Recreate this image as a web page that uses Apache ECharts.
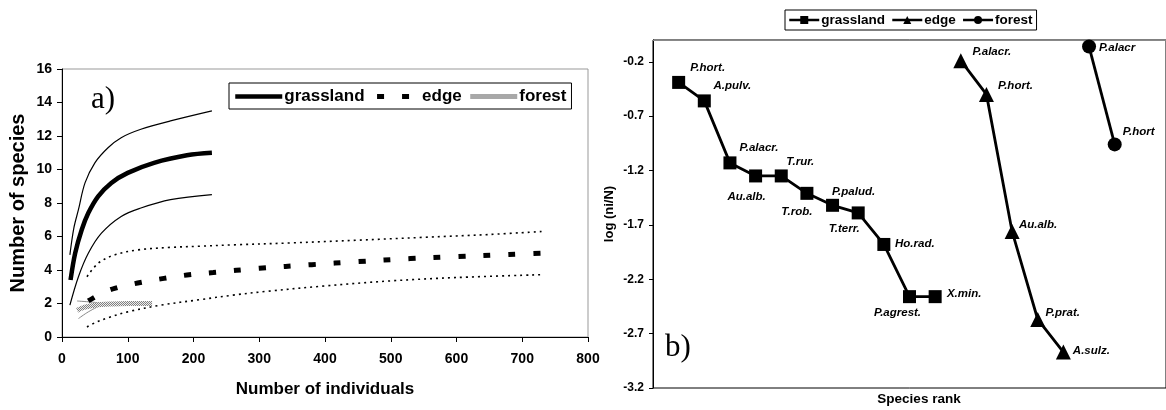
<!DOCTYPE html>
<html>
<head>
<meta charset="utf-8">
<script src="https://cdn.jsdelivr.net/npm/echarts@6/dist/echarts.min.js"></script>
<style>
  html, body { margin: 0; padding: 0; background: #fff; }
  #main { width: 1166px; height: 410px; }
</style>
</head>
<body>
<div id="main"></div>
<script>
// a) rarefaction curves: number of individuals -> number of species
var grassN      = [13, 20, 30, 40, 55, 75, 100, 140, 190, 228];
var grassMean   = [3.4, 5.0, 6.4, 7.4, 8.4, 9.2, 9.8, 10.4, 10.85, 11.0];
var grassUpN    = [12, 18, 25, 35, 50, 70, 90, 120, 165, 228];
var grassUp     = [4.9, 6.5, 7.6, 9.2, 10.4, 11.3, 11.9, 12.4, 12.9, 13.5];
var grassLowN   = [12, 25, 40, 60, 90, 120, 165, 228];
var grassLow    = [1.9, 3.6, 5.0, 6.2, 7.2, 7.7, 8.2, 8.5];

var edgeN       = [40, 60, 80, 115, 155, 190, 230, 300, 380, 450, 530, 600, 680, 730];
var edgeMean    = [2.15, 2.6, 2.9, 3.22, 3.5, 3.7, 3.85, 4.1, 4.32, 4.5, 4.68, 4.8, 4.93, 5.0];
var edgeUpN     = [38, 55, 80, 115, 165, 210, 260, 350, 450, 550, 650, 730];
var edgeUp      = [3.6, 4.4, 4.9, 5.2, 5.35, 5.42, 5.5, 5.62, 5.78, 5.95, 6.12, 6.3];
var edgeLowN    = [38, 50, 70, 100, 150, 210, 260, 310, 400, 500, 600, 730];
var edgeLow     = [0.6, 0.85, 1.15, 1.5, 1.9, 2.23, 2.5, 2.72, 3.05, 3.35, 3.55, 3.72];

var forestN     = [23, 35, 50, 75, 100, 137];
var forestMean  = [1.6, 1.78, 1.9, 1.97, 2.0, 2.0];
var forestUpN   = [23, 40, 60];
var forestUp    = [2.15, 2.1, 2.03];
var forestLowN  = [25, 40, 60];
var forestLow   = [1.1, 1.5, 1.92];

// b) rank / abundance
var grassRank   = [1, 2, 3, 4, 5, 6, 7, 8, 9, 10, 11];
var grassLog    = [-0.39, -0.56, -1.13, -1.25, -1.25, -1.41, -1.52, -1.59, -1.88, -2.36, -2.36];
var grassNames  = ['P.hort.', 'A.pulv.', 'P.alacr.', 'Au.alb.', 'T.rur.', 'T.rob.', 'P.palud.', 'T.terr.', 'Ho.rad.', 'P.agrest.', 'X.min.'];
var edgeRank    = [12, 13, 14, 15, 16];
var edgeLog     = [-0.19, -0.50, -1.76, -2.57, -2.87];
var edgeNames   = ['P.alacr.', 'P.hort.', 'Au.alb.', 'P.prat.', 'A.sulz.'];
var forestRank  = [17, 18];
var forestLog   = [-0.06, -0.96];
var forestNames = ['P.alacr', 'P.hort'];

// where each species name sits relative to its marker (px)
var grassOff  = [[29, -15], [28, -15], [29, -15], [-9, 21], [19, -14], [-10, 18], [21, -13], [-14, 16], [31, -1], [-12, 16], [29, -3]];
var edgeOff   = [[31, -9], [29, -9], [26, -7], [25, -7], [28, -1]];
var forestOff = [[28, 1], [24, -13]];

var arial = "'Liberation Sans', Arial, sans-serif";
var times = "'Liberation Serif', 'Times New Roman', serif";

function pairs(xs, ys) {
  return xs.map(function (x, i) { return [x, ys[i]]; });
}
function labelled(xs, ys, names, offs) {
  return xs.map(function (x, i) {
    return { value: [x, ys[i]], name: names[i], label: { offset: offs[i] } };
  });
}

// grey hatched stroke for the forest curve
var hatch = document.createElement('canvas');
hatch.width = 4; hatch.height = 4;
var hc = hatch.getContext('2d');
hc.fillStyle = '#eeeeee'; hc.fillRect(0, 0, 4, 4);
hc.fillStyle = '#808080';
for (var hy = 0; hy < 4; hy++) {
  for (var hx = (hy % 2); hx < 4; hx += 2) hc.fillRect(hx, hy, 1, 1);
}
var hatchColor = { image: hatch, repeat: 'repeat' };

var myChart = echarts.init(document.getElementById('main'), null, { renderer: 'canvas' });

var mainStyle = {
  grassland: { color: '#000', width: 4.5 },
  edge: { color: '#000', width: 5, type: [7, 18] },
  forest: { color: hatchColor, width: 5 }
};

function curve(name, xs, ys, lineStyle) {
  return {
    name: name, type: 'line', xAxisIndex: 0, yAxisIndex: 0,
    data: pairs(xs, ys), symbol: 'none', smooth: 0.35,
    itemStyle: { color: 'rgba(0,0,0,0)' },
    lineStyle: lineStyle, silent: true, z: 3
  };
}

function rank(name, xs, ys, names, offs, symbol, size) {
  return {
    name: name, type: 'line', xAxisIndex: 1, yAxisIndex: 1,
    data: labelled(xs, ys, names, offs),
    symbol: symbol, symbolSize: size,
    itemStyle: { color: '#000' },
    lineStyle: { color: '#000', width: 2.8 },
    label: {
      show: true, position: 'inside', formatter: '{b}',
      color: '#000', fontSize: 11.5, fontWeight: 'bold', fontStyle: 'italic', fontFamily: arial
    },
    z: 3
  };
}

var option = {
  animation: false,
  backgroundColor: '#fff',
  grid: [
    { left: 62, top: 69, width: 526, height: 268, show: true, borderColor: '#999', borderWidth: 1 },
    { left: 653, top: 40, width: 522, height: 348, show: true, borderColor: '#000', borderWidth: 1 }
  ],
  xAxis: [
    {
      gridIndex: 0, type: 'value', min: 0, max: 800, interval: 100,
      name: 'Number of individuals', nameLocation: 'middle', nameGap: 44,
      nameTextStyle: { color: '#000', fontSize: 17, fontWeight: 'bold', fontFamily: arial },
      axisLine: { lineStyle: { color: '#000', width: 1 } },
      axisTick: { show: true, length: 5, lineStyle: { color: '#000' } },
      axisLabel: { color: '#000', fontSize: 14, fontWeight: 'bold', fontFamily: arial, margin: 15 },
      splitLine: { show: false }
    },
    {
      gridIndex: 1, type: 'value', min: 0, max: 20,
      axisLine: { lineStyle: { color: '#888', width: 1 } },
      axisTick: { show: false }, axisLabel: { show: false }, splitLine: { show: false }
    }
  ],
  yAxis: [
    {
      gridIndex: 0, type: 'value', min: 0, max: 16, interval: 2,
      name: 'Number of species', nameLocation: 'middle', nameGap: 34,
      nameTextStyle: { color: '#000', fontSize: 20, fontWeight: 'bold', fontFamily: arial },
      axisLine: { show: true, lineStyle: { color: '#000', width: 1 } },
      axisTick: { show: true, length: 5, lineStyle: { color: '#000' } },
      axisLabel: { color: '#000', fontSize: 14, fontWeight: 'bold', fontFamily: arial, margin: 10 },
      splitLine: { show: false }
    },
    {
      gridIndex: 1, type: 'value', min: -3.2, max: 0, interval: 0.5,
      name: 'log (ni/N)', nameLocation: 'middle', nameGap: 37,
      nameTextStyle: { color: '#000', fontSize: 13, fontWeight: 'bold', fontFamily: arial },
      axisLine: { show: true, lineStyle: { color: '#000', width: 1 } },
      axisTick: { show: true, length: 4, lineStyle: { color: '#000' } },
      axisLabel: {
        color: '#000', fontSize: 12, fontWeight: 'bold', fontFamily: arial, margin: 9,
        showMaxLabel: false,
        formatter: function (v) { return v.toFixed(1); }
      },
      splitLine: { show: false }
    }
  ],
  legend: [
    {
      left: 229, top: 83, orient: 'horizontal',
      data: [
        { name: 'grassland', lineStyle: mainStyle.grassland, itemStyle: { opacity: 0 } },
        { name: 'edge', lineStyle: { color: '#000', width: 5, type: [7, 18], dashOffset: -4 }, itemStyle: { opacity: 0 } },
        { name: 'forest', lineStyle: { color: '#a8a8a8', width: 5 }, itemStyle: { opacity: 0 } }
      ],
      itemWidth: 47, itemHeight: 14, itemGap: 6,
      padding: [5, 5, 4, 4],
      borderColor: '#000', borderWidth: 1, backgroundColor: '#fff',
      textStyle: { color: '#000', fontSize: 17, fontWeight: 'bold', fontFamily: arial, padding: [0, 0, 0, -3] },
      selectedMode: false
    },
    {
      left: 785, top: 10, orient: 'horizontal',
      data: [
        { name: 'grassland_b', lineStyle: { color: '#000', width: 2.5 } },
        { name: 'edge_b', lineStyle: { color: '#000', width: 2.5 } },
        { name: 'forest_b', lineStyle: { color: '#000', width: 2.5 } }
      ],
      formatter: function (n) { return n.replace('_b', ''); },
      itemWidth: 30, itemHeight: 10, itemGap: 6,
      padding: [3, 4, 3, 3],
      borderColor: '#000', borderWidth: 1, backgroundColor: '#fff',
      textStyle: { color: '#000', fontSize: 13.5, fontWeight: 'bold', fontFamily: arial, padding: [0, 0, 0, -3] },
      selectedMode: false
    }
  ],
  graphic: [
    { type: 'text', left: 91, top: 84, style: { text: 'a)', fontSize: 31, fontFamily: times, fill: '#000' } },
    { type: 'text', left: 665, top: 332, style: { text: 'b)', fontSize: 31, fontFamily: times, fill: '#000' } },
    { type: 'text', x: 919, y: 399, style: { text: 'Species rank', fontSize: 13.5, fontWeight: 'bold', fontFamily: arial, fill: '#000', align: 'center', verticalAlign: 'middle' } }
  ],
  series: [
    curve('edge upper', edgeUpN, edgeUp, { color: '#000', width: 1.6, type: [2, 4] }),
    curve('edge lower', edgeLowN, edgeLow, { color: '#000', width: 1.6, type: [2, 4] }),
    curve('grassland upper', grassUpN, grassUp, { color: '#000', width: 1.2 }),
    curve('grassland lower', grassLowN, grassLow, { color: '#000', width: 1.2 }),
    curve('forest upper', forestUpN, forestUp, { color: '#888', width: 1 }),
    curve('forest lower', forestLowN, forestLow, { color: '#888', width: 1 }),
    curve('forest', forestN, forestMean, mainStyle.forest),
    curve('edge', edgeN, edgeMean, mainStyle.edge),
    curve('grassland', grassN, grassMean, mainStyle.grassland),

    rank('grassland_b', grassRank, grassLog, grassNames, grassOff, 'rect', 13),
    rank('edge_b', edgeRank, edgeLog, edgeNames, edgeOff, 'triangle', 15),
    rank('forest_b', forestRank, forestLog, forestNames, forestOff, 'circle', 14)
  ]
};

myChart.setOption(option);
</script>
</body>
</html>
